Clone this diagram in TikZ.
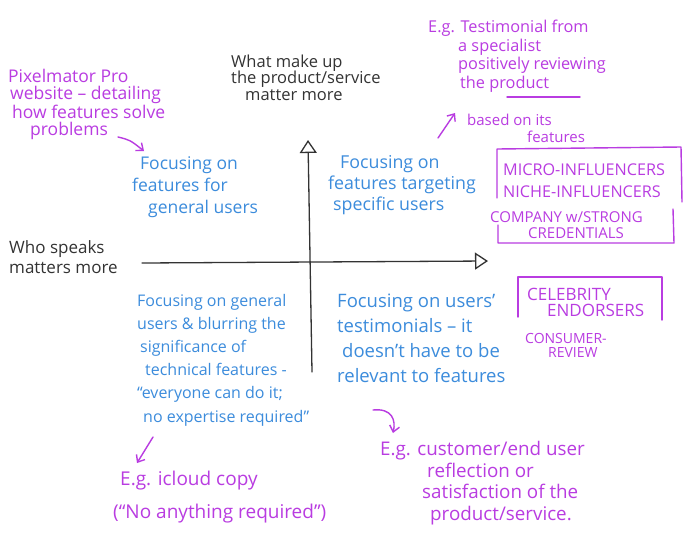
\documentclass[tikz,border=0pt]{standalone}
\usepackage{fontspec}
\setmainfont{Open Sans}
\usetikzlibrary{arrows.meta}
\definecolor{ink}{HTML}{333333}
\definecolor{pen}{HTML}{B93CE1}
\definecolor{marker}{HTML}{3C8CDC}
\newcommand\handsize[2]{\fontsize{#1}{#2}\selectfont}
% a multi-line node's base anchor sits on its last line
\begin{document}
\begin{tikzpicture}[x=1pt,y=-1pt, line cap=round, line join=round,
  hand/.style={inner sep=0pt, anchor=base west, align=left},
  pennote/.style={hand, text=pen},
  bluenote/.style={hand, text=marker},
  inknote/.style={hand, text=ink},
  penline/.style={draw=pen, line width=1.4pt},
  penarrow/.style={penline, -{Straight Barb[length=6pt, width=10pt]}},
  axis/.style={draw=ink, line width=1.3pt, -{Triangle[open, length=13pt, width=17pt, line width=1.3pt]}}]
\useasboundingbox[fill=white] (0,0) rectangle (687,541);

% the two axes
\coordinate (hs) at (142,263);
\coordinate (he) at (488,261);
\coordinate (vs) at (312,372);
\coordinate (ve) at (308,140);
\draw[axis] (hs) -- (he);
\draw[axis] (vs) -- (ve);

% axis captions
\node[inknote, font=\handsize{16.5}{16.5}] (what) at (231,100)
  {What make up\\the product/service\\\hspace*{14pt}matter more};
\node[inknote, font=\handsize{17}{20}] (who) at (9,273)
  {Who speaks\\matters more};

% quadrant notes
\node[bluenote, font=\handsize{17.5}{22}] (tl) at (132,213)
  {\hspace*{8pt}Focusing on\\features for\\\hspace*{16pt}general users};
\node[bluenote, font=\handsize{17.8}{21}] (tr) at (328,210)
  {\hspace*{12pt}Focusing on\\features targeting\\\hspace*{5pt}specific users};
\node[bluenote, font=\handsize{16}{23.2}] (bl) at (137,422)
  {Focusing on general\\users \& blurring the\\\hspace*{3pt}significance of\\\hspace*{8pt}technical features -\\“everyone can do it;\\\hspace*{6pt}no expertise required”};
\node[bluenote, font=\handsize{18.5}{25}] (br) at (337,382)
  {Focusing on users’\\testimonials – it\\\hspace*{5pt}doesn’t have to be\\relevant to features};

% examples
\node[pennote, font=\handsize{17.5}{17}] (pixel) at (8,135)
  {Pixelmator Pro\\\hspace*{2pt}website – detailing\\\hspace*{4pt}how features solve\\\hspace*{22pt}problems};
\coordinate (pixeltail) at (118,137);
\coordinate (tlhead) at (144,151);
\draw[penarrow] (pixeltail) .. controls (130,140) .. (tlhead);

\node[pennote, font=\handsize{16.3}{18.5}] (eg1) at (428,88)
  {E.g. Testimonial from\\\hspace*{30pt}a specialist\\\hspace*{30pt}positively reviewing\\\hspace*{32pt}the product};
\coordinate (ula) at (507,97);
\coordinate (ulb) at (580,97);
\draw[penline] (ula) -- (ulb);

\coordinate (basedtail) at (438,138);
\coordinate (basedhead) at (455,113);
\draw[penarrow] (basedtail) -- (basedhead);
\node[pennote, font=\handsize{15}{17}] (based) at (467,142)
  {based on its\\\hspace*{60pt}features};

\node[pennote, font=\handsize{16.2}{22}] (micro) at (503,197)
  {MICRO-INFLUENCERS\\NICHE-INFLUENCERS};
\draw[penline] (497,198) -- (497,149) -- (681,147) -- (682,202);

\node[pennote, font=\handsize{15}{16}] (company) at (490,238)
  {COMPANY w/STRONG\\\hspace*{38pt}CREDENTIALS};
\draw[penline] (498,225) -- (498,243) -- (674,243) -- (673,209);

\node[pennote, font=\handsize{17}{16}] (celeb) at (527,316)
  {CELEBRITY\\\hspace*{20pt}ENDORSERS};
\draw[penline] (518,317) -- (518,277) -- (662,277) -- (662,320);
\node[pennote, font=\handsize{14}{14}] (consumer) at (525,357)
  {CONSUMER-\\\hspace*{23pt}REVIEW};

\coordinate (bltail) at (153,437);
\coordinate (blhead) at (137,463);
\draw[penarrow] (bltail) -- (blhead);
\node[pennote, font=\handsize{19}{33}] (icloud) at (113,518)
  {\hspace*{7pt}E.g. icloud copy\\(“No anything required”)};

\coordinate (brtail) at (373,410);
\coordinate (brhead) at (393,433);
\draw[penarrow] (brtail) .. controls (392,408) and (396,420) .. (brhead);
\node[pennote, font=\handsize{18.8}{21.5}] (customer) at (380,520)
  {E.g. customer/end user\\\hspace*{47pt}reflection or\\\hspace*{42pt}satisfaction of the\\\hspace*{50pt}product/service.};
\end{tikzpicture}
\end{document}
